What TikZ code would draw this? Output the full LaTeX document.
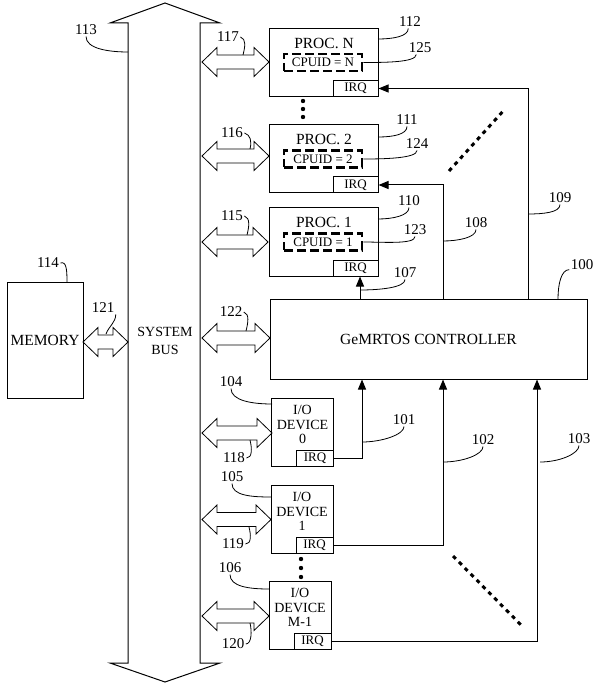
\documentclass[tikz,border=0pt]{standalone}
\usepackage{fontspec}
\setmainfont{Liberation Serif}
\usetikzlibrary{arrows.meta}
\newcommand{\buslink}[3]{%
\draw[link] (#1,#3) -- ({#1+15},{#3-14.5}) -- ({#1+15},{#3-7}) -- ({#2-15},{#3-7}) -- ({#2-15},{#3-14.5}) -- (#2,#3) -- ({#2-15},{#3+14.5}) -- ({#2-15},{#3+7}) -- ({#1+15},{#3+7}) -- ({#1+15},{#3+14.5}) -- cycle;}
\begin{document}
\begin{tikzpicture}[x=1pt,y=-1pt,line width=1pt,
  every node/.style={font=\fontsize{15.5}{16}\selectfont},
  unit/.style={draw,minimum width=109pt,minimum height=68pt,inner sep=0pt},
  io/.style={draw,minimum width=62pt,minimum height=68pt,inner sep=0pt},
  iotext/.style={align=center,font=\fontsize{14}{14.5}\selectfont},
  irq/.style={draw,anchor=south east,minimum width=45pt,minimum height=16pt,inner sep=0pt,font=\fontsize{13}{13}\selectfont},
  cpu/.style={draw,line width=2.5pt,dash pattern=on 9pt off 4pt,minimum width=78pt,minimum height=17pt,inner sep=0pt,font=\fontsize{13}{13}\selectfont},
  num/.style={inner sep=1pt,font=\fontsize{15}{15}\selectfont},
  lead/.style={line width=0.8pt},
  irqline/.style={-{Triangle[length=10pt,width=8pt]}},
  link/.style={line width=0.8pt},
  dots/.style={line width=3pt,dash pattern=on 4pt off 4.4pt}]
\useasboundingbox (0,0) rectangle (602,684);

% system bus
\draw (165,3) -- (220,23) -- (200,23) -- (200,663) -- (220,663) -- (165,682) -- (110,663) -- (128,663) -- (128,23) -- (110,23) -- cycle;
\node[align=center,font=\fontsize{14}{18}\selectfont] (bus) at (165,341) {SYSTEM\\BUS};

\node[draw,minimum width=76pt,minimum height=116pt,inner sep=0pt] (mem) at (45,340) {MEMORY};
\node[draw,minimum width=317pt,minimum height=80pt,inner sep=0pt] (ctl) at (428.5,339) {GeMRTOS CONTROLLER};

% processors
\foreach \n/\y in {N/62.5,2/159,1/242}{
\node[unit] (p\n) at (323.5,\y) {};
\node (t\n) at (324,\y-19.5) {PROC. \n};
\node[cpu] (c\n) at (323,\y) {CPUID = \n};
\node[irq] (q\n) at (p\n.south east) {IRQ};
}

% i/o devices
\foreach \n/\x/\y/\t in {0/302.5/432.5/0,1/302/519.5/1,M/300/615.5/M-1}{
\node[io] (d\n) at (\x,\y) {};
\node[iotext] (dt\n) at (\x,\y-8) {I/O\\DEVICE\\\t};
\node[irq,minimum width=37pt] (dq\n) at (d\n.south east) {IRQ};
}

% links to the bus
\foreach \y/\xe in {62/269,156/269,242/268,338/270,433/272,519.5/271,616/269}{
\buslink{202}{\xe}{\y}
}
\buslink{83}{128}{342}

% interrupt lines
\coordinate (w1) at (443,0);
\coordinate (w2) at (528,0);
\coordinate (w3) at (362,0);
\coordinate (w4) at (537,0);
\coordinate (w5) at (360,0);
\draw[irqline] (ctl.north -| w5) -- (q1.south -| w5);
\draw[irqline] (ctl.north -| w1) |- (q2.east);
\draw[irqline] (ctl.north -| w2) |- (qN.east);
\draw[irqline] (dq0.east) -| (ctl.south -| w3);
\draw[irqline] (dq1.east) -| (ctl.south -| w1);
\draw[irqline] (dqM.east) -| (ctl.south -| w4);

\foreach \y in {101,109,117}{
\fill (303,\y) circle (2.2);
}
\foreach \y in {559,568,577}{
\fill (301,\y) circle (2.2);
}
\draw[dots] (449,171) -- (505,109);
\draw[dots] (453,556) -- (523,627);

% reference numbers
\foreach \n/\x/\y in {113/86/30,114/48/263,121/103/308,117/228/37,116/232/133,115/232/216,122/231/312,118/234/458,119/233/544,120/233/644,104/231/382,105/232/477,106/230/568,112/410/22,125/420/48,111/407/120,124/417/144,110/409/201,123/415/230,107/405/273,108/476/223,109/560/198,100/582/265,101/404/420,102/483/440,103/579/439}{
\node[num] (l\n) at (\x,\y) {\n};
}
\draw[lead] (l113.south) .. controls +(0,12) and +(-20,0) .. (128,52);
\draw[lead] (l114.east) .. controls +(6,-2) and +(0,-12) .. (67,282);
\draw[lead] (l121.south east) .. controls +(0,8) and +(3,-8) .. (106,334);
\draw[lead] (l117.east) .. controls +(6,2) and +(2,-8) .. (243,55);
\draw[lead] (l116.east) .. controls +(6,2) and +(2,-8) .. (250,149);
\draw[lead] (l115.east) .. controls +(6,2) and +(2,-8) .. (247,235);
\draw[lead] (l122.east) .. controls +(6,2) and +(2,-8) .. (246,331);
\draw[lead] (l118.east) .. controls +(6,0) and +(2,8) .. (250,440);
\draw[lead] (l119.east) .. controls +(6,0) and +(2,8) .. (249,527);
\draw[lead] (l120.east) .. controls +(6,0) and +(2,8) .. (250,623);
\draw[lead] (l104.south) .. controls +(0,12) and +(-20,0) .. (272,404);
\draw[lead] (l105.south) .. controls +(0,12) and +(-20,0) .. (271,497);
\draw[lead] (l106.south) .. controls +(0,12) and +(-20,0) .. (269,589);
\draw[lead] (l112.255) .. controls +(0,8) and +(15,0) .. (378,39);
\draw[lead] (l125.240) .. controls +(0,8) and +(20,0) .. (cN.east);
\draw[lead] (l111.south) .. controls +(0,8) and +(15,0) .. (378,137);
\draw[lead] (l124.south) .. controls +(0,8) and +(20,0) .. (c2.east);
\draw[lead] (l110.south) .. controls +(0,8) and +(15,0) .. (378,219);
\draw[lead] (l123.south) .. controls +(0,8) and +(20,0) .. (c1.east);
\draw[lead] (l107.south) .. controls +(0,8) and +(20,0) .. (360,290);
\draw[lead] (l108.south) .. controls +(0,8) and +(15,0) .. (443,241);
\draw[lead] (l109.south) .. controls +(0,8) and +(15,0) .. (528,214);
\draw[lead] (l100.200) .. controls +(-8,0) and +(0,-15) .. (558,299);
\draw[lead] (l101.south) .. controls +(0,8) and +(20,0) .. (362,442);
\draw[lead] (l102.south) .. controls +(0,8) and +(20,0) .. (443,462);
\draw[lead] (l103.south) .. controls +(0,8) and +(20,0) .. (540,462);
\end{tikzpicture}
\end{document}
